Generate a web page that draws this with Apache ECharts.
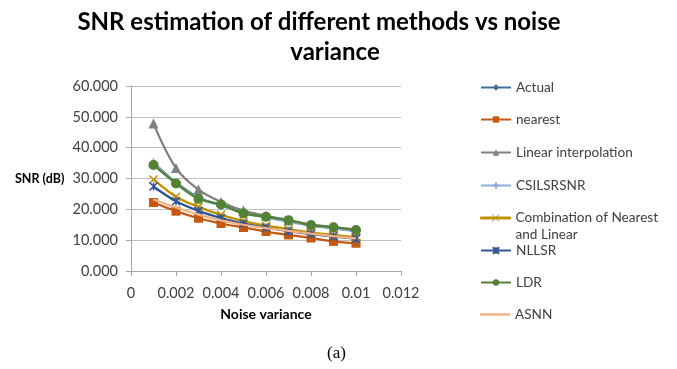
<!DOCTYPE html>
<html>
<head>
<meta charset="utf-8">
<script src="https://cdn.jsdelivr.net/npm/echarts@6/dist/echarts.min.js"></script>
<style>html,body{margin:0;padding:0;background:#fff;}#c{width:677px;height:369px;}</style>
</head>
<body>
<div id="c"></div>
<script>
var noiseVariance = [0.001, 0.002, 0.003, 0.004, 0.005, 0.006, 0.007, 0.008, 0.009, 0.01];
var seriesNames = ['Actual', 'nearest', 'Linear interpolation', 'CSILSRSNR', 'Combination of Nearest\nand Linear', 'NLLSR', 'LDR', 'ASNN'];
var actual = [35.2, 28.7, 23.8, 21.3, 19.0, 17.5, 16.2, 14.8, 13.9, 13.0];
var nearest = [22.2, 19.4, 17.1, 15.4, 14.1, 12.8, 11.7, 10.7, 9.6, 9.0];
var linearInterp = [47.8, 33.4, 26.4, 22.4, 19.6, 17.9, 16.5, 15.1, 14.2, 13.4];
var csilsrsnr = [35.0, 28.5, 23.6, 21.2, 18.9, 17.4, 16.0, 14.7, 13.8, 12.9];
var combination = [29.7, 24.1, 20.8, 18.2, 16.2, 14.7, 13.6, 12.5, 11.7, 11.0];
var nllsr = [27.4, 22.6, 19.5, 17.2, 15.4, 14.1, 12.9, 12.0, 11.2, 10.5];
var ldr = [34.4, 28.4, 23.4, 21.6, 18.7, 17.6, 16.5, 14.9, 14.2, 13.3];
var asnn = [23.2, 20.6, 18.3, 16.4, 15.0, 13.9, 13.0, 12.1, 11.3, 10.6];

var allValues = [actual, nearest, linearInterp, csilsrsnr, combination, nllsr, ldr, asnn];
var colors = ['#41719C', '#C65911', '#7F7F7F', '#8FAADC', '#BF9000', '#2F5597', '#548235', '#F4B183'];
var symbols = ['diamond', 'rect', 'triangle', 'path://M5,0L5,10M0,5L10,5', 'path://M0,0L10,10M10,0L0,10', 'path://M5,0L5,10M0,0L10,10M10,0L0,10', 'circle', 'none'];
var symbolSizes = [7, 9, 10, 9, 8, 8, 10, 0];
var strokeSymbol = [false, false, false, true, true, true, false, false];
var legendCenters = [87, 119, 152, 185, 217, 250, 282, 314];

var font = 'Lato, "Open Sans", sans-serif';

function pairs(vals) {
  return noiseVariance.map(function (x, i) { return [x, vals[i]]; });
}

var series = seriesNames.map(function (name, i) {
  var is = strokeSymbol[i]
    ? { color: '#ffffff', borderColor: colors[i], borderWidth: 1.5 }
    : { color: colors[i] };
  return {
    name: name,
    type: 'line',
    smooth: 0.35,
    data: pairs(allValues[i]),
    symbol: symbols[i],
    symbolSize: symbolSizes[i],
    showSymbol: symbols[i] !== 'none',
    lineStyle: { color: colors[i], width: 2.25 },
    itemStyle: is,
    z: 2 + i
  };
});

var legends = seriesNames.map(function (name, i) {
  var lg = {
    data: [name],
    left: 480,
    top: legendCenters[i] - 8,
    orient: 'vertical',
    itemWidth: 30,
    itemHeight: 8,
    itemGap: 0,
    padding: 0,
    textStyle: { fontFamily: font, fontSize: 13.6, color: '#404040', lineHeight: 17 }
  };
  if (i === 4) {
    lg.icon = 'path://M0,7.5L30,7.5L30,9.5L0,9.5Z M11.5,5L18.5,12 M18.5,5L11.5,12 M0,0L0,0 M0,34L0,34';
    lg.itemHeight = 34;
    lg.itemStyle = { color: colors[4], borderColor: colors[4], borderWidth: 1 };
  }
  if (i === 7) {
    lg.icon = 'path://M0,0L30,0L30,2.4L0,2.4Z';
    lg.itemHeight = 2.4;
    lg.itemStyle = { color: colors[7], borderWidth: 0 };
  }
  return lg;
});

var titleStyle = { fontFamily: font, fontWeight: 'bold', fontSize: 24, color: '#000', lineHeight: 30 };

var chart = echarts.init(document.getElementById('c'), null, { renderer: 'canvas' });
chart.setOption({
  animation: false,
  backgroundColor: '#ffffff',
  title: [
    {
      text: 'SNR estimation of different methods vs noise',
      left: 319, textAlign: 'center', top: 7, padding: 0,
      textStyle: titleStyle
    },
    {
      text: 'variance',
      left: 335, textAlign: 'center', top: 37, padding: 0,
      textStyle: titleStyle
    }
  ],
  legend: legends,
  grid: { left: 131, top: 86, right: 276, bottom: 98, containLabel: false },
  xAxis: {
    type: 'value',
    min: 0, max: 0.012, interval: 0.002,
    name: 'Noise variance',
    nameLocation: 'middle',
    nameGap: 36,
    nameTextStyle: { fontFamily: font, fontWeight: 'bold', fontSize: 14, color: '#000' },
    axisLine: { show: true, lineStyle: { color: '#A6A6A6', width: 1 } },
    axisTick: { show: true, length: 5, lineStyle: { color: '#A6A6A6' } },
    axisLabel: {
      margin: 15, fontFamily: font, fontSize: 14.5, color: '#404040',
      formatter: function (v) { return String(parseFloat(v.toFixed(4))); }
    },
    splitLine: { show: false }
  },
  yAxis: {
    type: 'value',
    min: 0, max: 60, interval: 10,
    axisLine: { show: true, lineStyle: { color: '#A6A6A6', width: 1 } },
    axisTick: { show: true, length: 5, lineStyle: { color: '#A6A6A6' } },
    axisLabel: {
      margin: 13, fontFamily: font, fontSize: 14.5, color: '#404040',
      formatter: function (v) { return v.toFixed(3); }
    },
    splitLine: { show: true, lineStyle: { color: '#BFBFBF', width: 1 } }
  },
  graphic: [
    {
      type: 'text', left: 15, top: 172,
      style: { text: 'SNR (dB)', font: 'bold 12.5px ' + font, fill: '#000' }
    },
    {
      type: 'text', left: 327, top: 345,
      style: { text: '(a)', font: '17px "Liberation Serif", "DejaVu Serif", serif', fill: '#000' }
    }
  ],
  series: series
});
</script>
</body>
</html>
